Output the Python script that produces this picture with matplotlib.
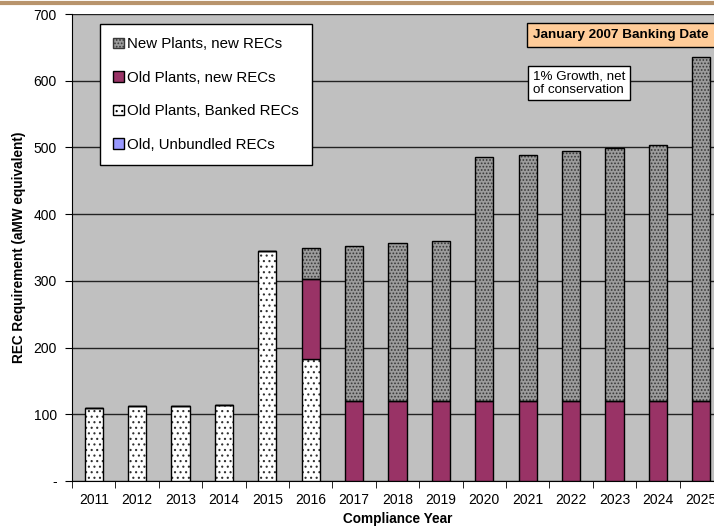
import matplotlib.pyplot as plt
import matplotlib.patches as mpatches
import numpy as np

plt.rcParams['font.family'] = ['Liberation Sans', 'DejaVu Sans']
plt.rcParams['hatch.linewidth'] = 0.8

years = [str(y) for y in range(2011, 2026)]
banked = [110, 112, 113, 114, 345, 183, 0, 0, 0, 0, 0, 0, 0, 0, 0]
old_new = [0, 0, 0, 0, 0, 120, 120, 120, 120, 120, 120, 120, 120, 120, 120]
new_new = [0, 0, 0, 0, 0, 46, 232, 236, 240, 365, 369, 374, 379, 384, 516]
unbundled = [0] * 15

labels = ['New Plants, new RECs', 'Old Plants, new RECs',
          'Old Plants, Banked RECs', 'Old, Unbundled RECs']


def hatched_bar(ax, x, h, w, bottom, face, hatch, hcolor):
    # hatch in its own colour, then a black outline on top
    ax.bar(x, h, w, bottom=bottom, color=face, edgecolor=hcolor, hatch=hatch, lw=0, zorder=3)
    ax.bar(x, h, w, bottom=bottom, fill=False, edgecolor='black', lw=1, zorder=4)


def main():
    fig = plt.figure(figsize=(7.14, 5.29), dpi=100)
    ax = fig.add_axes([72 / 714, 48 / 529, 651 / 714, 467 / 529])
    ax.set_facecolor('#c0c0c0')

    x = np.arange(len(years))
    w = 0.42
    b0 = np.array(banked)
    b1 = b0 + np.array(old_new)
    hatched_bar(ax, x, banked, w, 0, 'white', '...', '#303030')
    ax.bar(x, old_new, w, bottom=b0, color='#993366', edgecolor='black', lw=1, zorder=4)
    hatched_bar(ax, x, new_new, w, b1, '#9c9c9c', '.....', '#383838')

    ax.set_xlim(-0.5, len(years) - 0.5)
    ax.set_ylim(0, 700)
    ax.set_yticks(range(0, 701, 100))
    ax.set_yticklabels(['-'] + [str(v) for v in range(100, 701, 100)], fontsize=10)
    ax.set_xticks(x)
    ax.set_xticklabels(years, fontsize=10)
    ax.set_xticks(np.arange(-0.5, len(years)), minor=True)
    ax.tick_params(axis='x', which='major', length=0, pad=9)
    ax.tick_params(axis='x', which='minor', length=5, direction='out')
    ax.tick_params(axis='y', length=5, pad=6)
    ax.grid(axis='y', color='#222222', lw=1, zorder=1)
    ax.set_axisbelow(True)
    for s in ['top', 'right']:
        ax.spines[s].set_visible(False)
    ax.spines['left'].set_color('black')
    ax.spines['bottom'].set_color('black')

    ax.set_xlabel('Compliance Year', fontsize=9.8, fontweight='bold', labelpad=3)
    ax.set_ylabel('REC Requirement (aMW equivalent)', fontsize=9.8, fontweight='bold', labelpad=5)

    handles = [
        mpatches.Patch(facecolor='#9c9c9c', edgecolor='#383838', hatch='.....'),
        mpatches.Patch(facecolor='#993366', edgecolor='black'),
        mpatches.Patch(facecolor='white', edgecolor='black', hatch='...'),
        mpatches.Patch(facecolor='#9999ff', edgecolor='black'),
    ]
    leg = ax.legend(handles, labels, loc='upper left', bbox_to_anchor=(0.043, 0.979),
                    fontsize=10.8, frameon=True, fancybox=False, edgecolor='black',
                    framealpha=1, handlelength=0.7, handleheight=0.7, handletextpad=0.2,
                    labelspacing=1.3, borderpad=0.9, borderaxespad=0)
    leg.get_frame().set_linewidth(1)
    leg.set_zorder(5)

    ax.text(0.708, 0.955, 'January 2007 Banking Date', transform=ax.transAxes,
            fontsize=9.7, fontweight='bold', va='center', ha='left', zorder=6,
            bbox=dict(boxstyle='square,pad=0.45', facecolor='#ffcc99', edgecolor='black', lw=1))
    ax.text(0.708, 0.852, '1% Growth, net\nof conservation', transform=ax.transAxes,
            fontsize=9.6, va='center', ha='left', zorder=6, linespacing=1.1,
            bbox=dict(boxstyle='square,pad=0.35', facecolor='white', edgecolor='black', lw=1))

    fig.add_artist(plt.Line2D([0, 1], [1 - 3 / 529, 1 - 3 / 529], color='#b8946c', lw=3))

    fig.savefig('out.png', dpi=100)


if __name__ == "__main__":
    main()
